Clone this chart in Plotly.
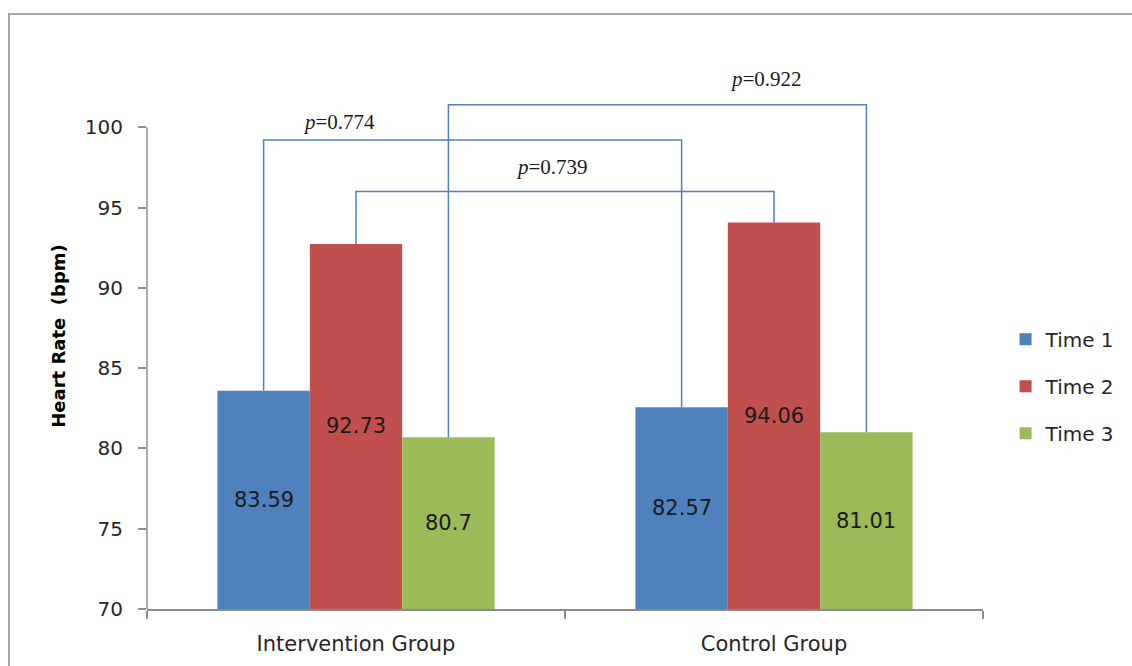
import plotly.graph_objects as go

# Heart rate by group and time point
groups = ["Intervention Group", "Control Group"]
series_names = ["Time 1", "Time 2", "Time 3"]
time1 = [83.59, 82.57]
time2 = [92.73, 94.06]
time3 = [80.70, 81.01]
series_values = [time1, time2, time3]
colors = ["#4F81BD", "#C0504D", "#9BBB59"]

# Between-group comparisons: (series index, bracket height, p label)
comparisons = [
    (0, 99.2, "0.774"),
    (1, 96.0, "0.739"),
    (2, 101.4, "0.922"),
]
y_ticks = [70, 75, 80, 85, 90, 95, 100]

FONT = "DejaVu Sans"
AXIS_GREY = "#8C8C8C"
BRACKET = "#4F81BD"
Y_MIN = y_ticks[0]

fig = go.Figure()
for i, (name, vals) in enumerate(zip(series_names, series_values)):
    fig.add_trace(go.Bar(
        name=name,
        x=groups,
        y=vals,
        marker=dict(color=colors[i], line=dict(width=0)),
        legendgroup=name,
    ))

bargap = 0.337
n_series = len(series_names)
bar_w = (1 - bargap) / n_series


def bar_center(group_idx, series_idx):
    return group_idx - (1 - bargap) / 2 + bar_w * (series_idx + 0.5)


shapes = []
annotations = []

# value labels centred on the visible part of each bar
for s, vals in enumerate(series_values):
    for g, v in enumerate(vals):
        annotations.append(dict(
            x=bar_center(g, s), y=(Y_MIN + v) / 2, xref="x", yref="y",
            text=f"{v:g}", showarrow=False, xanchor="center", yanchor="middle",
            font=dict(family=FONT, size=21, color="#1A1A1A"),
        ))

label_x = [-0.04, 0.47, 0.98]
label_gap = [4, 10, 12]
for k, (s, level, p) in enumerate(comparisons):
    xa = bar_center(0, s)
    xb = bar_center(1, s)
    ya = series_values[s][0]
    yb = series_values[s][1]
    path = f"M {xa},{ya} L {xa},{level} L {xb},{level} L {xb},{yb}"
    shapes.append(dict(type="path", path=path, xref="x", yref="y",
                       line=dict(color=BRACKET, width=1.5), layer="above"))
    annotations.append(dict(
        x=label_x[k], y=level, xref="x", yref="y",
        text=f"<i>p</i>=" + p, showarrow=False,
        xanchor="center", yanchor="bottom", yshift=label_gap[k],
        font=dict(family="Liberation Serif", size=21, color="#1A1A1A"),
    ))

# value axis line drawn only over the labelled range
shapes.append(dict(type="line", xref="paper", yref="y", x0=0, x1=0,
                   y0=y_ticks[0], y1=y_ticks[-1],
                   line=dict(color=AXIS_GREY, width=1.5)))
# chart frame
shapes.append(dict(type="rect", xref="paper", yref="paper",
                   x0=(9 - 147) / 836, x1=(1145 - 147) / 836,
                   y0=(609 - 680) / 546, y1=(609 - 14) / 546,
                   line=dict(color="#A6A6A6", width=2)))

fig.update_layout(
    width=1132, height=666,
    margin=dict(l=147, r=149, t=63, b=57, autoexpand=False),
    paper_bgcolor="white", plot_bgcolor="white",
    barmode="group", bargap=bargap, bargroupgap=0,
    shapes=shapes, annotations=annotations,
    font=dict(family=FONT, size=20, color="#262626"),
    legend=dict(x=1.027, y=0.408, xanchor="left", yanchor="middle",
                tracegroupgap=18, font=dict(family=FONT, size=20, color="#262626"),
                bgcolor="rgba(0,0,0,0)"),
    xaxis=dict(showline=True, linecolor=AXIS_GREY, linewidth=1.5,
               ticks="outside", tickson="boundaries", ticklen=8,
               tickcolor=AXIS_GREY, tickwidth=1.5, showgrid=False,
               ticklabelstandoff=15, automargin=False,
               tickfont=dict(family=FONT, size=21, color="#262626"),
               range=[-0.5, 1.5]),
    yaxis=dict(range=[70, 104], tickvals=y_ticks, showline=False,
               ticks="outside", ticklen=8, tickcolor=AXIS_GREY, tickwidth=1.5,
               showgrid=False, zeroline=False, ticklabelstandoff=11,
               automargin=False,
               tickfont=dict(family=FONT, size=20, color="#262626"),
               title=dict(text="Heart Rate  (bpm)", standoff=14,
                          font=dict(family=FONT, size=18, color="#000000",
                                    weight="bold"))),
)

fig.write_html("out.html")
